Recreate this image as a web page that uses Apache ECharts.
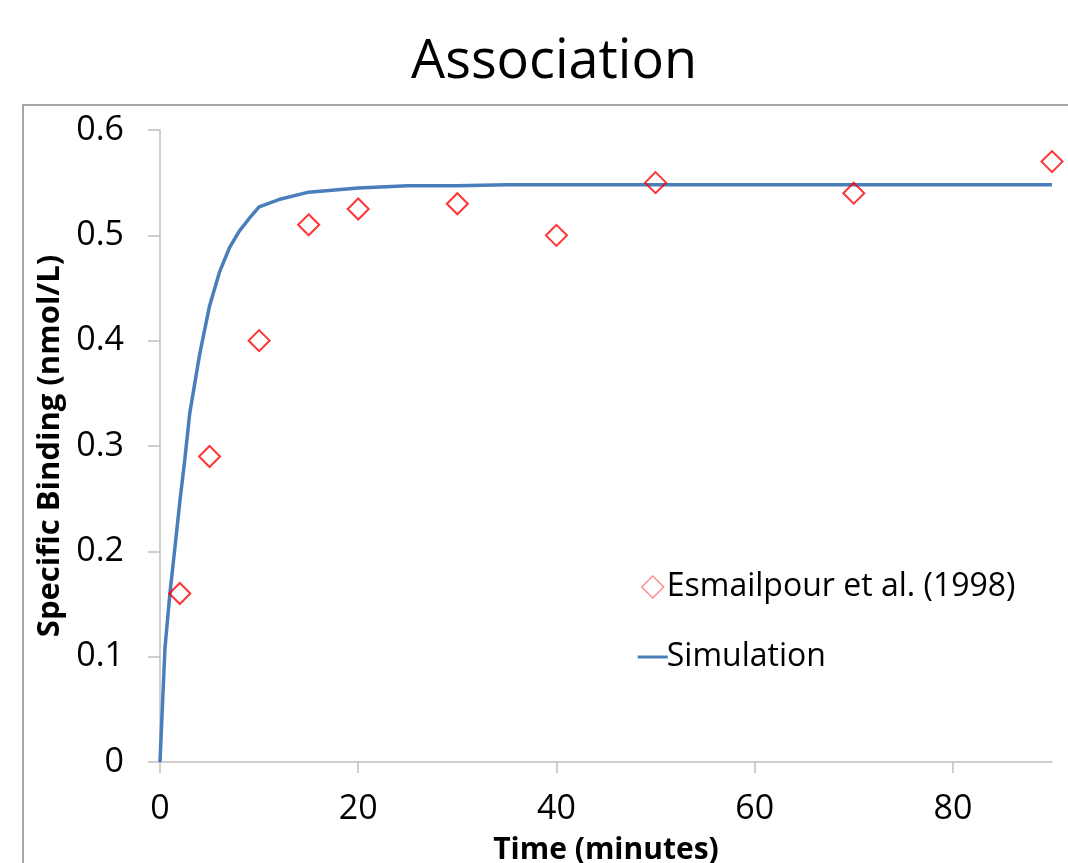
<!DOCTYPE html>
<html>
    <head>
        <meta charset="UTF-8">
        <title>Association</title>
        <script src="https://cdn.jsdelivr.net/npm/echarts@6/dist/echarts.min.js"></script>
        <style>
            body,html{margin:0;padding:0;background:#fff;}
            #assoc{width:1068px;height:863px;}
        </style>
    </head>
    <body>
        <div id="assoc"></div>
        <script type="text/javascript">
          // measured points (Esmailpour et al. 1998)
          var expTime = [2, 5, 10, 15, 20, 30, 40, 50, 70, 90];
          var expBinding = [0.16, 0.29, 0.40, 0.51, 0.525, 0.53, 0.50, 0.55, 0.54, 0.57];
          // simulated curve
          var simTime = [0, 0.5, 1, 1.5, 2, 2.5, 3, 4, 5, 6, 7, 8, 9, 10, 12, 15, 20, 25, 30, 35, 40, 50, 60, 70, 80, 90];
          var simBinding = [0, 0.108, 0.16, 0.203, 0.247, 0.287, 0.331, 0.387, 0.433, 0.465, 0.488, 0.504, 0.516, 0.527, 0.534, 0.541, 0.545, 0.547, 0.547, 0.548, 0.548, 0.548, 0.548, 0.548, 0.548, 0.548];
          var xTicks = [0, 20, 40, 60, 80];

          var chart = echarts.init(document.getElementById('assoc'));
          var font = 'Open Sans';
          var axisGrey = '#bfbfbf';
          // legend icons drawn in a 30x22 box (the bare moveTo fixes the box size)
          var diamondIcon = 'path://M0,0 M30,22 M4,11 L15,0 L26,11 L15,22 Z';
          var lineIcon = 'path://M0,0 M30,22 M0,9.5 L30,9.5 L30,12.5 L0,12.5 Z';

          var option = {
              backgroundColor: '#fff',
              animation: false,
              textStyle: { fontFamily: font, color: '#000' },
              title: {
                  text: 'Association',
                  left: 406,
                  top: 31,
                  textStyle: { fontFamily: font, fontSize: 54, fontWeight: 'normal', color: '#000' }
              },
              graphic: [{
                  type: 'rect',
                  shape: { x: 23, y: 105, width: 1200, height: 900 },
                  style: { fill: 'none', stroke: '#8a8a8a', lineWidth: 1.5 },
                  silent: true
              }],
              legend: {
                  orient: 'vertical',
                  left: 632,
                  top: 566,
                  itemWidth: 30,
                  itemHeight: 22,
                  itemGap: 38,
                  textStyle: { fontFamily: font, fontSize: 32, color: '#000', padding: [0, 0, 0, -6] },
                  data: [
                      { name: 'Esmailpour et al. (1998)', icon: diamondIcon, itemStyle: { color: 'rgba(0,0,0,0)', borderColor: '#ff7070', borderWidth: 1.5 } },
                      { name: 'Simulation', icon: lineIcon, itemStyle: { color: '#4a7ebb', borderWidth: 0 } }
                  ]
              },
              grid: { left: 160, right: 16, top: 130, bottom: 101, containLabel: false, outerBoundsMode: 'none' },
              xAxis: {
                  type: 'value',
                  min: 0,
                  max: 90,
                  name: 'Time (minutes)',
                  nameLocation: 'middle',
                  nameGap: 73,
                  nameTextStyle: { fontFamily: font, fontSize: 30, fontWeight: 'bold', color: '#000' },
                  axisLine: { show: true, lineStyle: { color: axisGrey, width: 1.5 } },
                  axisTick: { show: true, length: 11, lineStyle: { color: axisGrey, width: 1.5 }, customValues: xTicks },
                  axisLabel: { fontSize: 34, color: '#000', margin: 30, customValues: xTicks },
                  splitLine: { show: false }
              },
              yAxis: {
                  type: 'value',
                  min: 0,
                  max: 0.6,
                  interval: 0.1,
                  name: 'Specific Binding (nmol/L)',
                  nameLocation: 'middle',
                  nameGap: 90,
                  nameTextStyle: { fontFamily: font, fontSize: 31, fontWeight: 'bold', color: '#000' },
                  axisLine: { show: true, lineStyle: { color: axisGrey, width: 1.5 } },
                  axisTick: { show: true, length: 12, lineStyle: { color: axisGrey, width: 1.5 } },
                  axisLabel: { fontSize: 34, color: '#000', margin: 36 },
                  splitLine: { show: false }
              },
              series: [
                  {
                      name: 'Simulation',
                      type: 'line',
                      showSymbol: false,
                      symbol: 'none',
                      smooth: false,
                      lineStyle: { color: '#4a7ebb', width: 3.5 },
                      itemStyle: { color: '#4a7ebb' },
                      data: simTime.map(function (t, i) { return [t, simBinding[i]]; }),
                      z: 2
                  },
                  {
                      name: 'Esmailpour et al. (1998)',
                      type: 'scatter',
                      symbol: 'diamond',
                      symbolSize: 21,
                      itemStyle: { color: 'rgba(0,0,0,0)', borderColor: '#ff0000', borderWidth: 2 },
                      data: expTime.map(function (t, i) { return [t, expBinding[i]]; }),
                      z: 3
                  }
              ]
          };
          chart.setOption(option);
        </script>
    </body>
</html>
